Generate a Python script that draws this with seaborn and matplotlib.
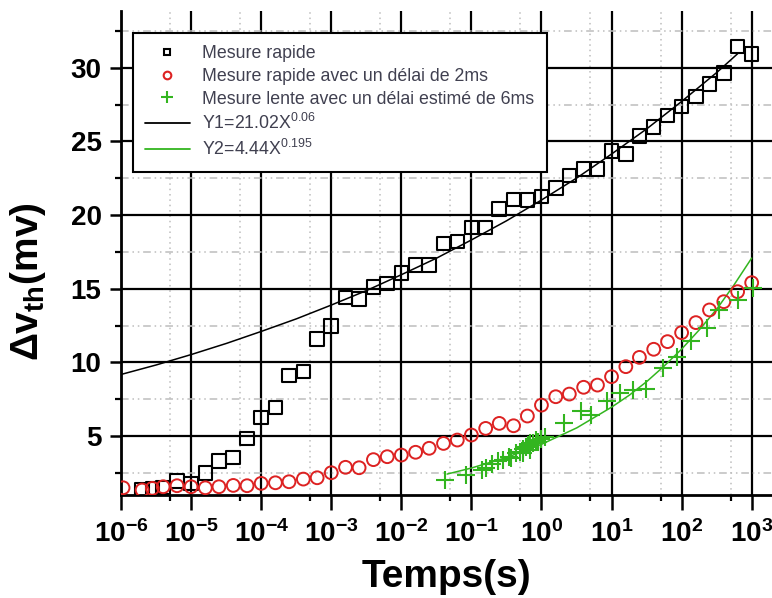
import math
import matplotlib
matplotlib.use("Agg")
import matplotlib.pyplot as plt
import matplotlib.ticker as mticker
from matplotlib.lines import Line2D
import pandas as pd
import seaborn as sns

# ---- data ----
# Mesure rapide (black squares)
t_rapide = [2.0e-6, 2.8e-6, 4.0e-6, 6.3e-6,
            1.0e-5, 1.6e-5, 2.5e-5, 4.0e-5, 6.3e-5,
            1.0e-4, 1.6e-4, 2.5e-4, 4.0e-4, 6.3e-4,
            1.0e-3, 1.6e-3, 2.5e-3, 4.0e-3, 6.3e-3,
            1.0e-2, 1.6e-2, 2.5e-2, 4.0e-2, 6.3e-2,
            1.0e-1, 1.6e-1, 2.5e-1, 4.0e-1, 6.3e-1,
            1.0, 1.6, 2.5, 4.0, 6.3,
            10, 16, 25, 40, 63,
            100, 160, 250, 400, 630, 1000]
v_rapide = [1.35, 1.45, 1.5, 1.96,
            1.79, 2.51, 3.3, 3.56, 4.85,
            6.25, 6.95, 9.1, 9.37, 11.57,
            12.47, 14.4, 14.3, 15.1, 15.37,
            16.05, 16.61, 16.61, 18.08, 18.2,
            19.15, 19.15, 20.4, 21.07, 21.03,
            21.25, 21.82, 22.68, 23.11, 23.11,
            24.35, 24.13, 25.37, 25.96, 26.75,
            27.36, 28.04, 28.88, 29.63, 31.43, 30.92]

# Mesure rapide avec un délai de 2ms (red circles)
t_delai = [1.07e-6, 2.0e-6, 2.8e-6, 4.0e-6, 6.3e-6,
           1.0e-5, 1.6e-5, 2.5e-5, 4.0e-5, 6.3e-5,
           1.0e-4, 1.6e-4, 2.5e-4, 4.0e-4, 6.3e-4,
           1.0e-3, 1.6e-3, 2.5e-3, 4.0e-3, 6.3e-3,
           1.0e-2, 1.6e-2, 2.5e-2, 4.0e-2, 6.3e-2,
           1.0e-1, 1.6e-1, 2.5e-1, 4.0e-1, 6.3e-1,
           1.0, 1.6, 2.5, 4.0, 6.3,
           10, 16, 25, 40, 63,
           100, 160, 250, 400, 630, 1000]
v_delai = [1.49, 1.34, 1.45, 1.56, 1.63,
           1.56, 1.49, 1.56, 1.65, 1.63,
           1.79, 1.83, 1.9, 2.08, 2.17,
           2.51, 2.88, 2.85, 3.4, 3.6,
           3.71, 3.9, 4.17, 4.5, 4.73,
           5.07, 5.52, 5.86, 5.70, 6.36,
           7.1, 7.67, 7.85, 8.31, 8.46,
           9.03, 9.71, 10.34, 10.89, 11.41,
           12.02, 12.7, 13.56, 14.12, 14.8, 15.41]

# Mesure lente avec un délai estimé de 6ms (green crosses)
t_lente = [0.042, 0.085, 0.14, 0.16, 0.195, 0.24, 0.28, 0.34, 0.37, 0.44,
           0.49, 0.55, 0.55, 0.60, 0.65, 0.68, 0.69, 0.76, 0.83, 0.89,
           1.0, 1.12, 2.1, 3.7, 5.1, 8.5, 13.2, 20.4, 31, 54,
           85, 138, 234, 347, 631, 1050]
v_lente = [2.0, 2.35, 2.7, 2.85, 3.1, 3.3, 3.4, 3.6, 3.5, 3.85,
           3.95, 3.85, 4.1, 4.28, 4.4, 4.05, 4.55, 4.5, 4.73, 4.62,
           4.78, 4.92, 5.9, 6.7, 6.43, 7.4, 7.9, 8.13, 8.17, 9.6,
           10.39, 11.47, 12.31, 13.56, 14.24, 15.03]

# fit curves
t_fit1 = [1e-6, 3.2e-6, 1e-5, 3.2e-5, 1e-4, 3.2e-4, 1e-3, 3.2e-3, 1e-2, 3.2e-2,
          0.1, 0.32, 1, 3.2, 10, 32, 100, 320, 630]
v_fit1 = [9.18, 9.83, 10.53, 11.29, 12.10, 12.96, 13.89, 14.88, 15.95, 17.08,
          18.31, 19.62, 21.02, 22.52, 24.14, 25.86, 27.71, 29.69, 30.95]
t_fit2 = [0.045, 0.1, 0.32, 1, 3.2, 10, 18, 32, 56, 100, 178, 320, 560, 1000]
v_fit2 = [2.42, 2.83, 3.55, 4.44, 5.56, 6.96, 7.78, 8.71, 9.74, 10.90, 12.20, 13.64, 15.26, 17.08]

labels = ["Mesure rapide",
          "Mesure rapide avec un délai de 2ms",
          "Mesure lente avec un délai estimé de 6ms",
          r"Y1=21.02X$^{0.06}$",
          r"Y2=4.44X$^{0.195}$"]

RED = "#dd2222"
GREEN = "#33b51f"

sns.set_theme(style="ticks")
plt.rcParams["font.family"] = ["Liberation Sans", "DejaVu Sans"]
plt.rcParams["mathtext.fontset"] = "custom"
plt.rcParams["mathtext.rm"] = "Liberation Sans"
plt.rcParams["mathtext.bf"] = "Liberation Sans:bold"
plt.rcParams["mathtext.it"] = "Liberation Sans"
for k in ["text.color", "axes.labelcolor", "xtick.color", "ytick.color"]:
    plt.rcParams[k] = "black"

fig = plt.figure(figsize=(7.72, 5.98), dpi=100)
ax = fig.add_axes([121 / 772, 103 / 598, 651 / 772, 484 / 598])

df1 = pd.DataFrame({"t": t_rapide, "v": v_rapide})
df2 = pd.DataFrame({"t": t_delai, "v": v_delai})
df3 = pd.DataFrame({"t": t_lente, "v": v_lente})
f1 = pd.DataFrame({"t": t_fit1, "v": v_fit1})
f2 = pd.DataFrame({"t": t_fit2, "v": v_fit2})

sns.lineplot(data=f1, x="t", y="v", ax=ax, color="black", lw=1.1, sort=False, estimator=None, zorder=3)
sns.lineplot(data=f2, x="t", y="v", ax=ax, color=GREEN, lw=1.1, sort=False, estimator=None, zorder=3)
sns.scatterplot(data=df1, x="t", y="v", ax=ax, marker="s", s=95, facecolor="none",
                edgecolor="black", linewidth=1.5, zorder=4)
sns.scatterplot(data=df2, x="t", y="v", ax=ax, marker="o", s=85, facecolor="none",
                edgecolor=RED, linewidth=1.4, zorder=4)
sns.scatterplot(data=df3, x="t", y="v", ax=ax, marker="+", s=170, color=GREEN,
                linewidth=1.5, zorder=4)

ax.set_xscale("log")
ax.set_xlim(1e-6, 10 ** 3.29)
ax.set_ylim(1.0, 33.85)

# ticks
ax.xaxis.set_major_locator(mticker.LogLocator(base=10, numticks=20))
ax.xaxis.set_minor_locator(mticker.LogLocator(base=10, subs=[5], numticks=20))
ax.xaxis.set_major_formatter(mticker.FuncFormatter(lambda x, p: r"$\mathbf{10^{%d}}$" % round(math.log10(x))))
ax.xaxis.set_minor_formatter(mticker.NullFormatter())
ax.yaxis.set_major_locator(mticker.MultipleLocator(5))
ax.yaxis.set_minor_locator(mticker.MultipleLocator(2.5))
ax.tick_params(axis="both", which="major", direction="out", length=8, width=1.8,
               labelsize=20, pad=6, color="black", labelcolor="black")
ax.tick_params(axis="both", which="minor", direction="out", length=4, width=1.6, color="black")
ax.tick_params(axis="x", which="major", length=11, pad=7)
for lab in ax.get_yticklabels():
    lab.set_fontweight("bold")

# grid
ax.set_axisbelow(True)
ax.grid(which="major", color="black", lw=1.6, ls="-")
ax.grid(which="minor", axis="x", color="#bdbdbd", lw=1.1, ls=(0, (1, 2.5)))
ax.grid(which="minor", axis="y", color="#bdbdbd", lw=1.1, ls=(0, (5, 2.5, 1, 2.5, 1, 2.5)))

for s in ["top", "right"]:
    ax.spines[s].set_visible(False)
for s in ["left", "bottom"]:
    ax.spines[s].set_linewidth(2)
    ax.spines[s].set_color("black")

ax.set_xlabel("Temps(s)", fontsize=28, fontweight="bold", labelpad=8)
ax.set_ylabel(r"Δv$_{\mathbf{th}}$(mv)", fontsize=28, fontweight="bold")
ax.yaxis.set_label_coords(-0.112, 0.44)

# legend
handles = [
    Line2D([], [], ls="none", marker="s", ms=5, mfc="none", mec="black", mew=1.5),
    Line2D([], [], ls="none", marker="o", ms=5.5, mfc="none", mec=RED, mew=1.5),
    Line2D([], [], ls="none", marker="+", ms=9, color=GREEN, mew=1.5),
    Line2D([], [], color="black", lw=1.3),
    Line2D([], [], color=GREEN, lw=1.3),
]
leg = ax.legend(handles, labels, loc="upper left", bbox_to_anchor=(0.018, 0.955),
                borderaxespad=0, fontsize=12.8, frameon=True, fancybox=False,
                framealpha=1, edgecolor="black", handlelength=2.5, handletextpad=0.7,
                labelspacing=0.32, borderpad=0.7)
leg.get_frame().set_linewidth(1.5)
for txt in leg.get_texts():
    txt.set_color("#404050")

plt.savefig("out.png", dpi=100)
